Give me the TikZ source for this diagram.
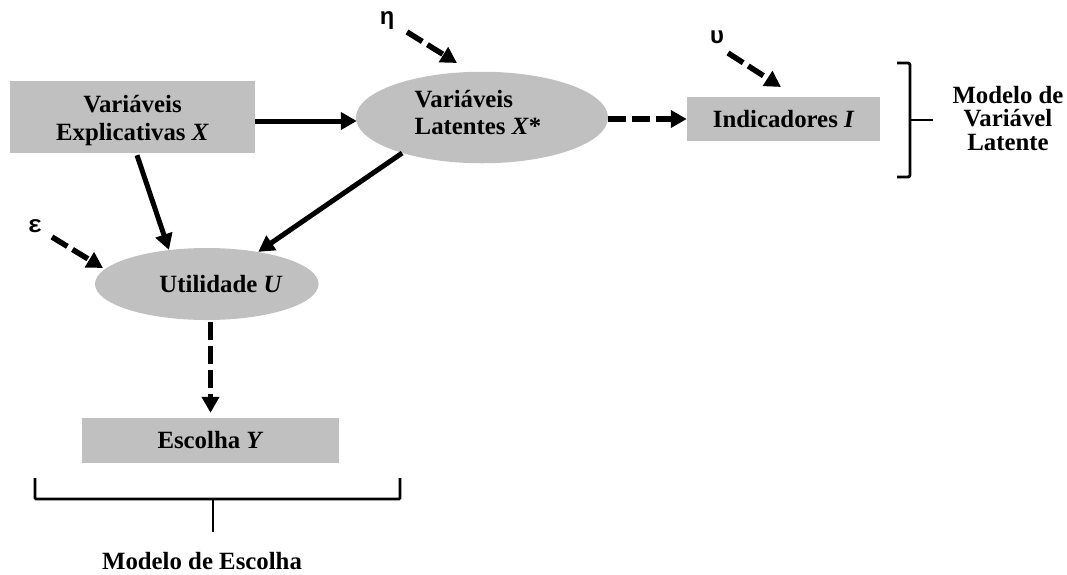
\documentclass[tikz,border=0pt]{standalone}
\usepackage{fontspec}
\setmainfont{Liberation Serif}
\newfontfamily\greekmono{Liberation Mono}
\usetikzlibrary{arrows.meta,calc,shapes.geometric}
\definecolor{boxgray}{RGB}{192,192,192}
\begin{document}
\begin{tikzpicture}[x=1pt,y=-1pt,
  every node/.style={font=\fontsize{24.8}{27.5}\selectfont\bfseries, inner sep=0pt},
  graybox/.style={rectangle, fill=boxgray, align=center},
  grayell/.style={ellipse, fill=boxgray},
  arr/.style={line width=5pt, -{Triangle[length=16pt,width=17pt]}},
  darr/.style={arr, line width=5.5pt, dash pattern=on 18pt off 6pt},
  brace/.style={line width=2.8pt},
  greek/.style={font=\fontsize{24}{24}\selectfont\greekmono\bfseries}]
\useasboundingbox (0,0) rectangle (1067,574);

% shapes
\node[graybox, minimum width=245pt, minimum height=72pt,
  label={[align=center, yshift=-3.4pt]center:Variáveis\\Explicativas \textit{X}}] (X) at (132.5,117) {};
\node[grayell, minimum width=252pt, minimum height=91.5pt,
  label={[align=left, xshift=-4pt, yshift=5.2pt]center:Variáveis\\Latentes \textit{X}*}] (Xs) at (482,117.5) {};
\node[grayell, minimum width=223.6pt, minimum height=72pt,
  label={[xshift=14.2pt, yshift=-0.5pt]center:Utilidade \textit{U}}] (U) at (206.8,284) {};
\node[graybox, minimum width=193.5pt, minimum height=44pt] (I) at (783.7,119) {Indicadores \textit{I}};
\node[graybox, minimum width=257pt, minimum height=45pt] (Y) at (210.5,440.5) {Escolha \textit{Y}};

% error terms
\node[greek] (eta) at (387,21) {η};
\node[greek] (eps) at (35,226) {ε};
\node[greek] (ups) at (717,37) {υ};
\coordinate (etatip) at (457,63);
\coordinate (epstip) at (103,268);
\coordinate (upstip) at (781,87);

% labels
\node[anchor=north, align=center, font=\fontsize{24.8}{23.5}\selectfont\bfseries] (lvm) at (1008,86) {Modelo de\\Variável\\Latente};
\node[anchor=base] (cm) at (202,569) {Modelo de Escolha};

% connectors
\draw[arr] ($(X.east)+(0,4)$) -- ($(Xs.west)+(1,3.5)$);
\draw[arr] ($(X.south)+(4.5,2)$) -- (U.138);
\draw[arr] (Xs.204) -- (U.32);
\draw[darr] (Xs.east |- I.west) -- (I.west);
\draw[darr] ($(Y.north |- U.south)+(0,2)$) -- ($(Y.north)+(0,-5)$);
\draw[darr] ($(eta)+(20,11)$) -- (etatip);
\draw[darr] ($(eps)+(17,11)$) -- (epstip);
\draw[darr] ($(ups)+(11,16)$) -- (upstip);

% brackets
\coordinate (rb1) at (897,63);
\coordinate (rb2) at (910,63);
\coordinate (rb3) at (910,177);
\coordinate (rb4) at (897,177);
\coordinate (rbm) at (910,120);
\draw[brace, rounded corners=2pt] (rb1) -- (rb2) -- (rb3) -- (rb4);
\draw[brace] (rbm) -- ++(23,0);
\coordinate (bb1) at (35,478);
\coordinate (bb2) at (35,499);
\coordinate (bb3) at (400,499);
\coordinate (bb4) at (400,478);
\coordinate (bbm) at (213,499);
\draw[brace, rounded corners=1pt] (bb1) -- (bb2) -- (bb3) -- (bb4);
\draw[brace] (bbm) -- ++(0,33);
\end{tikzpicture}
\end{document}
